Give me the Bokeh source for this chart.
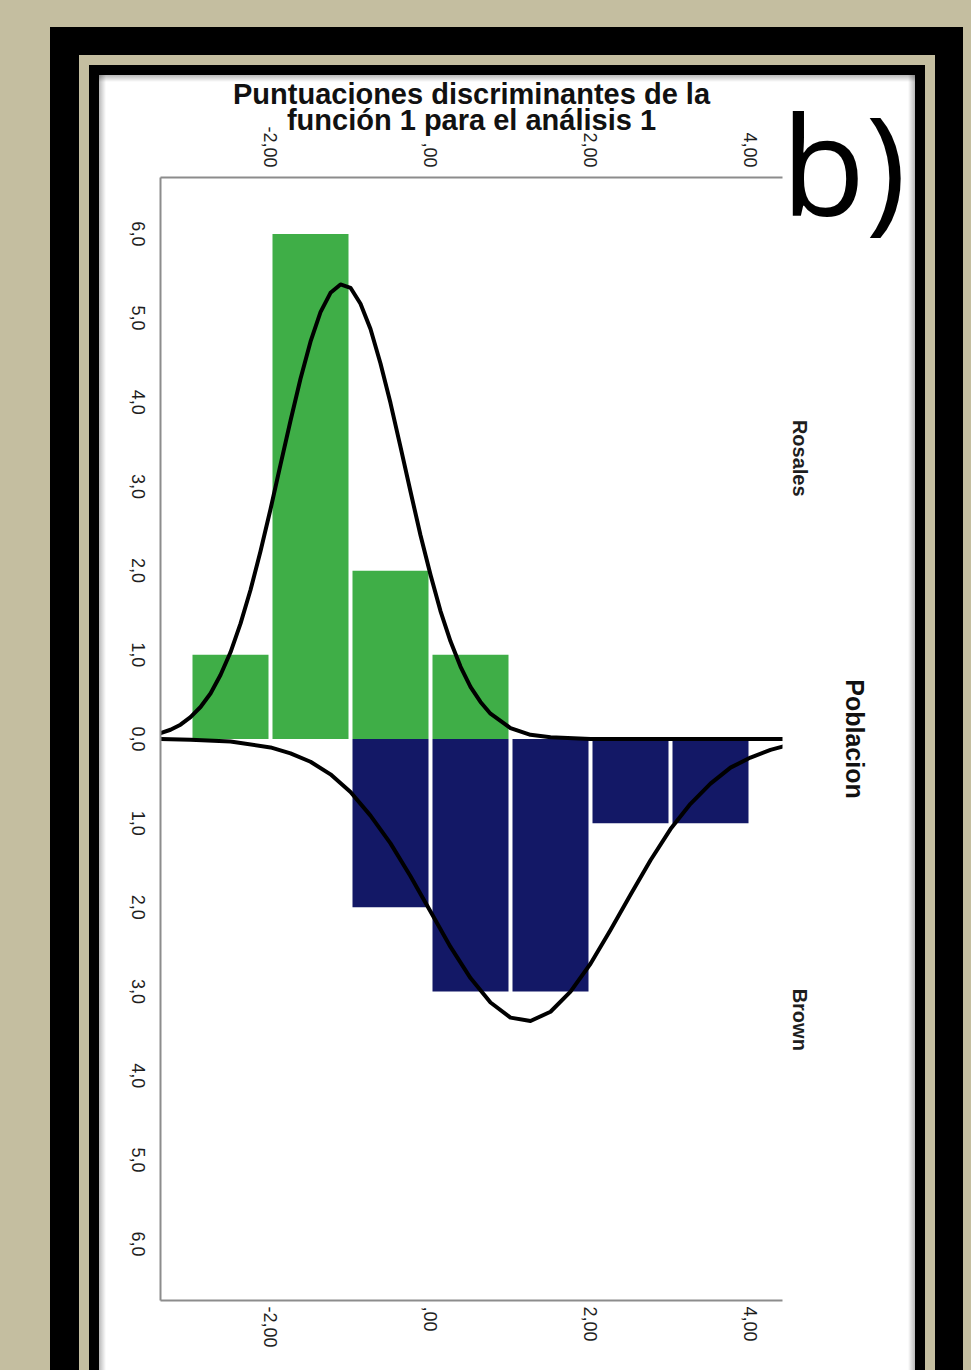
import math
from bokeh.plotting import figure
from bokeh.layouts import column
from bokeh.models import (Range1d, LinearAxis, FixedTicker, CustomJSTickFormatter, Div)
from bokeh.embed import file_html
from bokeh.resources import INLINE

# ---------------- data ----------------
bin_centers = [-2.5, -1.5, -0.5, 0.5, 1.5, 2.5, 3.5]
rosales_counts = [1, 6, 2, 1, 0, 0, 0]
brown_counts = [0, 0, 2, 3, 3, 1, 1]

rosales_curve_s = [-3.375, -3.25, -3.125, -3.0, -2.875, -2.75, -2.625, -2.5,
                   -2.375, -2.25, -2.125, -2.0, -1.875, -1.75, -1.625, -1.5,
                   -1.375, -1.25, -1.125, -1.0, -0.875, -0.75, -0.625, -0.5,
                   -0.375, -0.25, -0.125, 0.0, 0.125, 0.25, 0.375, 0.5,
                   0.625, 0.75, 1.0, 1.25, 1.5, 2.0, 3.0, 4.4]
rosales_curve_f = [0.07, 0.11, 0.17, 0.26, 0.38, 0.54, 0.76, 1.03,
                   1.37, 1.77, 2.23, 2.73, 3.26, 3.78, 4.28, 4.72,
                   5.07, 5.30, 5.40, 5.36, 5.17, 4.87, 4.46, 3.99,
                   3.47, 2.94, 2.42, 1.95, 1.52, 1.16, 0.86, 0.62,
                   0.44, 0.30, 0.13, 0.05, 0.02, 0.0, 0.0, 0.0]

brown_curve_s = [-3.375, -3.0, -2.5, -2.0, -1.75, -1.5, -1.25, -1.0,
                 -0.75, -0.5, -0.25, 0.0, 0.25, 0.5, 0.75, 1.0,
                 1.25, 1.5, 1.75, 2.0, 2.25, 2.5, 2.75, 3.0,
                 3.25, 3.5, 3.75, 4.0, 4.25, 4.4]
brown_curve_f = [0.0, 0.01, 0.03, 0.10, 0.17, 0.27, 0.42, 0.63,
                 0.91, 1.24, 1.63, 2.05, 2.47, 2.84, 3.13, 3.31,
                 3.35, 3.24, 3.00, 2.67, 2.27, 1.85, 1.44, 1.07,
                 0.77, 0.53, 0.34, 0.22, 0.13, 0.09]

score_ticks = [-2, 0, 2, 4]
score_tick_labels = ["-2,00", ",00", "2,00", "4,00"]
freq_ticks = [6, 5, 4, 3, 2, 1, 0, -1, -2, -3, -4, -5, -6]
freq_tick_labels = ["6,0", "5,0", "4,0", "3,0", "2,0", "1,0", "0,0",
                    "1,0", "2,0", "3,0", "4,0", "5,0", "6,0"]
group_ticks = [3.335, -3.335]
group_labels = ["Rosales", "Brown"]

axis_title = "Puntuaciones discriminantes de la\nfunción 1 para el análisis 1"
group_title = "Poblacion"
panel_tag = "b)"

# ---------------- layout (page pixels) ----------------
FR_L, FR_R, FR_T, FR_B = 160, 782, 177, 1300
X0, X1 = -3.375, 4.4
Y0, Y1 = -6.67, 6.67
W, H = 971, 1370

GREEN = "#3fae47"
NAVY = "#131866"
BEIGE = "#c4bea0"
AXIS_GRAY = "#8c8c8c"

p = figure(width=W, height=H, x_range=Range1d(X0, X1), y_range=Range1d(Y0, Y1),
           output_backend="svg", toolbar_location=None,
           min_border_left=FR_L, min_border_right=W - FR_R,
           min_border_top=FR_T, min_border_bottom=H - FR_B)
p.grid.visible = False
p.outline_line_color = None
p.background_fill_color = "white"
p.border_fill_color = None


# nested black / beige frame around the white panel (CSS background layers)
def layer(color, x, y, w, h):
    return "linear-gradient(%s,%s) %dpx %dpx / %dpx %dpx no-repeat" % (color, color, x, y, w, h)


bg_layers = [
    "linear-gradient(to right, rgba(0,0,0,0.28), rgba(0,0,0,0)) 99px 75px / 7px 1400px no-repeat",
    "linear-gradient(to left, rgba(0,0,0,0.28), rgba(0,0,0,0)) 908px 75px / 7px 1400px no-repeat",
    "linear-gradient(to bottom, rgba(0,0,0,0.28), rgba(0,0,0,0)) 99px 75px / 816px 7px no-repeat",
    layer("#ffffff", 99, 75, 816, 1400),
    layer("#000000", 89, 65, 836, 1400),
    layer(BEIGE, 79, 55, 856, 1400),
    layer("#000000", 50, 27, 913, 1400),
    BEIGE,
]
p.styles = {"background": ", ".join(bg_layers)}

ppy = (FR_B - FR_T) / (Y1 - Y0)


def fmt(tv, tl):
    return CustomJSTickFormatter(args=dict(tv=tv, tl=tl), code="""
        const i = tv.indexOf(tick);
        return i >= 0 ? tl[i] : '';
    """)


def style_axis(ax):
    ax.major_tick_line_color = None
    ax.minor_tick_line_color = None
    ax.axis_line_color = AXIS_GRAY
    ax.axis_line_width = 2
    ax.major_label_text_font = "Liberation Sans"
    ax.major_label_text_font_size = "18px"
    ax.major_label_text_color = "#1e1e1e"
    ax.major_label_orientation = -math.pi / 2


# bottom axis
bx = p.xaxis[0]
bx.ticker = FixedTicker(ticks=score_ticks)
bx.formatter = fmt(score_ticks, score_tick_labels)
style_axis(bx)
bx.major_label_standoff = 0

# top axis
tx = LinearAxis(ticker=FixedTicker(ticks=score_ticks),
                formatter=fmt(score_ticks, score_tick_labels))
style_axis(tx)
tx.major_label_standoff = 4
tx.axis_label = axis_title
tx.axis_label_text_font = "Liberation Sans"
tx.axis_label_text_font_style = "bold"
tx.axis_label_text_font_size = "29px"
tx.axis_label_text_color = "#111111"
tx.axis_label_text_line_height = 0.82
tx.axis_label_standoff = -13
p.add_layout(tx, "above")

# left axis: rotated labels are end-anchored by Bokeh, so the ticker is moved
# by half a label length to centre each label on its value
half_label = 12.5 / ppy
ly_ticks = [t - half_label for t in freq_ticks]
ly = p.yaxis[0]
ly.ticker = FixedTicker(ticks=ly_ticks)
ly.formatter = fmt(ly_ticks, freq_tick_labels)
style_axis(ly)
ly.major_label_standoff = 16

# right axis (population groups)
ry = LinearAxis(ticker=FixedTicker(ticks=group_ticks),
                formatter=fmt(group_ticks, group_labels))
style_axis(ry)
ry.axis_line_color = None
ry.major_label_orientation = "vertical"
ry.major_label_text_font_style = "bold"
ry.major_label_text_font_size = "20px"
ry.major_label_standoff = 0
ry.axis_label = group_title
ry.axis_label_text_font = "Liberation Sans"
ry.axis_label_text_font_style = "bold"
ry.axis_label_text_font_size = "25px"
ry.axis_label_text_color = "#111111"
ry.axis_label_standoff = 27
p.add_layout(ry, "right")

# bars
p.vbar(x=bin_centers, top=rosales_counts, bottom=0, width=0.95,
       fill_color=GREEN, line_color=None)
p.vbar(x=bin_centers, top=0, bottom=[-c for c in brown_counts], width=0.95,
       fill_color=NAVY, line_color=None)

# normal curves
p.line(rosales_curve_s, rosales_curve_f, line_color="black", line_width=4,
       line_join="round", line_cap="round")
p.line(brown_curve_s, [-v for v in brown_curve_f], line_color="black",
       line_width=4, line_join="round", line_cap="round")

# panel tag "b)" (outside the plot frame, so it is an HTML element)
tag = Div(text=panel_tag, styles={
    "position": "absolute", "left": "781px", "top": "93px",
    "font-family": "'Open Sans', sans-serif", "font-size": "138px",
    "line-height": "1", "color": "black", "z-index": "5",
    "margin": "0", "padding": "0"})

root = column(p, tag)
html = file_html(root, INLINE)
open("out.html", "w").write(html)
